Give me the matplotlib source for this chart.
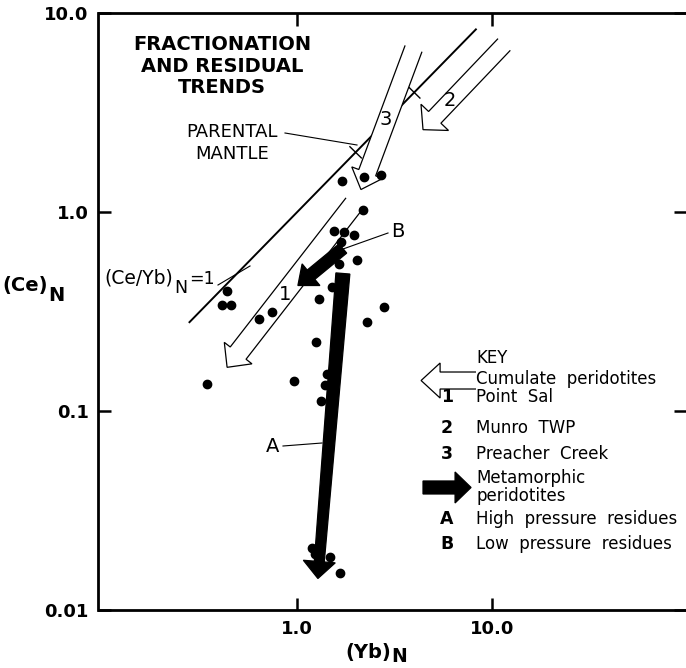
import numpy as np
import matplotlib
matplotlib.use("Agg")
import matplotlib.pyplot as plt
from matplotlib.patches import Polygon
from matplotlib.lines import Line2D

plt.rcParams['font.family'] = ['DejaVu Sans']

# samples, (Yb)N and (Ce)N
yb = [1.71, 2.22, 2.69, 2.17, 1.54, 1.75, 1.97, 1.68, 2.03, 1.65, 1.51, 1.29,
      2.81, 2.28, 1.25, 0.438, 0.410, 0.456, 0.638, 0.744, 0.345, 0.965, 1.42,
      1.39, 1.32, 1.19, 1.24, 1.48, 1.66]
ce = [1.44, 1.51, 1.53, 1.02, 0.806, 0.793, 0.764, 0.707, 0.576, 0.548, 0.423,
      0.367, 0.332, 0.279, 0.222, 0.403, 0.340, 0.340, 0.291, 0.314, 0.137,
      0.1425, 0.153, 0.1345, 0.1127, 0.0206, 0.0192, 0.0184, 0.0153]

# chondrite line (Ce/Yb)N = 1 and parental mantle marks on it
ratio_line_x = [0.28, 8.3]
mantle_marks = [2.0, 4.0]

# cumulate trends (open arrows): tail -> tip
cumulate = {
    "1": ((1.96, 1.10), (0.437, 0.166)),
    "2": ((11.6, 6.97), (4.44, 2.60)),
    "3": ((3.97, 6.65), (2.13, 1.30)),
}
# metamorphic residue trends (black arrows)
residue = {
    "A": ((1.72, 0.492), (1.28, 0.0144)),
    "B": ((1.72, 0.657), (1.01, 0.428)),
}
# key symbols
key_open = ((8.31, 0.1425), (4.34, 0.1425))
key_black = ((4.44, 0.0413), (7.84, 0.0413))

key_nums = ['1', '2', '3', 'A', 'B']
key_names = ['Point  Sal', 'Munro  TWP', 'Preacher  Creek',
             'High  pressure  residues', 'Low  pressure  residues']

W, H = 686, 668
fig = plt.figure(figsize=(W / 100, H / 100), dpi=100)
ax = fig.add_axes([98.5 / W, 58 / H, 587.7 / W, 596.7 / H])
ax.set_xscale('log')
ax.set_yscale('log')
ax.set_xlim(0.0954, 100)
ax.set_ylim(0.01, 10)

ax.spines['right'].set_visible(False)
for s in ['left', 'bottom', 'top']:
    ax.spines[s].set_linewidth(2.0)
ax.set_xticks([1, 10])
ax.set_xticklabels(['1.0', '10.0'])
ax.set_yticks([0.01, 0.1, 1, 10])
ax.set_yticklabels(['0.01', '0.1', '1.0', '10.0'])
ax.xaxis.set_minor_locator(matplotlib.ticker.NullLocator())
ax.yaxis.set_minor_locator(matplotlib.ticker.NullLocator())
ax.tick_params(which='major', direction='in', length=9, width=1.8,
               top=True, right=True, labelsize=13, pad=7)
for lab in ax.get_xticklabels() + ax.get_yticklabels():
    lab.set_fontweight('bold')


def block_arrow(tail, tip, shaft, head_w, head_l, face, open_tail, shaft_end=None, lw=0.9):
    T = ax.transData
    p0 = T.transform(tail)
    p1 = T.transform(tip)
    d = p1 - p0
    u = d / np.hypot(*d)
    n = np.array([-u[1], u[0]])
    if shaft_end is None:
        shaft_end = shaft
    base = p1 - u * head_l
    pts = [p0 + n * shaft / 2, base + n * shaft_end / 2, base + n * head_w / 2, p1,
           base - n * head_w / 2, base - n * shaft_end / 2, p0 - n * shaft / 2]
    ax.add_patch(Polygon(T.inverted().transform(pts), closed=not open_tail,
                         facecolor=face, edgecolor='black', lw=lw, zorder=3))


# (Ce/Yb)N = 1 line
ax.plot(ratio_line_x, ratio_line_x, color='black', lw=1.4, zorder=2)
T = ax.transData
for m in mantle_marks:
    c = T.transform((m, m))
    dd = T.transform((m * 1.5, m * 1.5)) - c
    u = dd / np.hypot(*dd)
    nrm = np.array([-u[1], u[0]])
    seg = T.inverted().transform([c + nrm * 8, c - nrm * 8])
    ax.plot(seg[:, 0], seg[:, 1], color='black', lw=1.0, zorder=2)

block_arrow(*cumulate["1"], 20, 35, 18, 'white', True)
block_arrow(*cumulate["2"], 17, 38, 17, 'white', True)
block_arrow(*cumulate["3"], 18, 33, 18, 'white', True)
block_arrow(*residue["A"], 14, 32, 17, 'black', False, shaft_end=10)
block_arrow(*residue["B"], 12, 28, 17, 'black', False)
block_arrow(*key_open, 17, 35, 19, 'white', True)
block_arrow(*key_black, 13, 31, 16, 'black', False)

ax.plot(yb, ce, 'o', color='black', ms=6, zorder=4, clip_on=False)

renderer = fig.canvas.get_renderer()


def txt(px, py, s, ha='left', size=12, weight='normal'):
    # py is the baseline, in pixels from the top
    return fig.text(px / W, 1 - py / H, s, ha=ha, va='baseline',
                    fontsize=size, fontweight=weight)


def after(t, s, dy, size=12, weight='normal', gap=1):
    bb = t.get_window_extent(renderer)
    x, y = t.get_position()
    return fig.text((bb.x1 + gap) / W, y - dy / H, s, ha='left', va='baseline',
                    fontsize=size, fontweight=weight)


def leader(x0, y0, x1, y1):
    fig.add_artist(Line2D([x0 / W, x1 / W], [1 - y0 / H, 1 - y1 / H], color='black', lw=0.8))


txt(222, 50, 'FRACTIONATION', 'center', 14, 'bold')
txt(222, 72, 'AND RESIDUAL', 'center', 14, 'bold')
txt(222, 93, 'TRENDS', 'center', 14, 'bold')

txt(232, 137, 'PARENTAL', 'center', 13)
txt(232, 159, 'MANTLE', 'center', 13)
leader(285, 133, 357, 145)

t = txt(104, 284, '(Ce/Yb)', 'left', 13.5)
t = after(t, 'N', 9, 12.5, gap=2)
after(t, '=1', -9, 12.5)
leader(218, 285, 250, 266)

txt(285, 300, '1', 'center', 14)
txt(450, 106, '2', 'center', 14)
txt(386, 125, '3', 'center', 14)
txt(273, 452, 'A', 'center', 14)
leader(283, 446, 322, 443)
txt(398, 237, 'B', 'center', 14)
leader(388, 233, 343, 249)

t = txt(2, 291, '(Ce)', 'left', 14, 'bold')
after(t, 'N', 10, 14, 'bold', gap=1)
t = txt(345, 658, '(Yb)', 'left', 14, 'bold')
after(t, 'N', 4, 13.5, 'bold', gap=1)

kx = 476
nx = 447
txt(kx, 363, 'KEY', size=12)
txt(kx, 384, 'Cumulate  peridotites', size=12)
txt(kx, 483, 'Metamorphic', size=12)
txt(kx, 501, 'peridotites', size=12)
for num, name, base in zip(key_nums, key_names, [402, 433, 459, 524, 549]):
    txt(nx, base, num, 'center', 12.5, 'bold')
    txt(kx, base, name, size=12)

fig.savefig('out.png', dpi=100)
